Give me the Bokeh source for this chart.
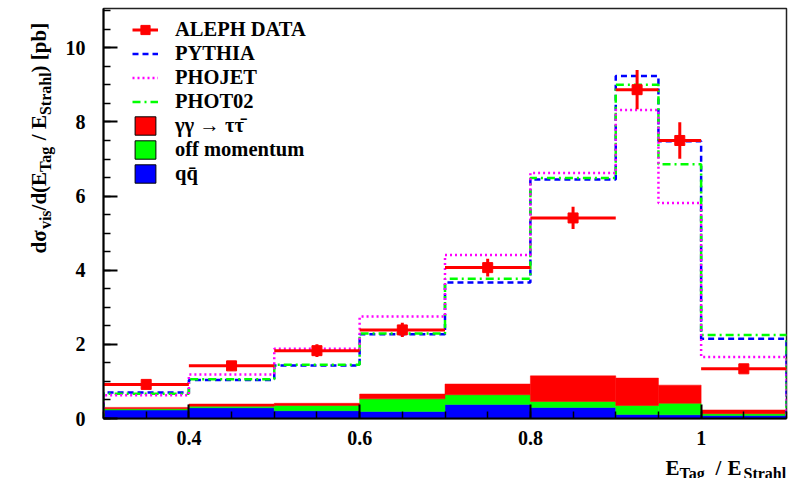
import numpy as np
from math import pi
from bokeh.plotting import figure
from bokeh.layouts import row, column
from bokeh.models import (FixedTicker, Range1d, Label, Legend, LegendItem,
                          CustomJSTickFormatter)
from bokeh.embed import file_html
from bokeh.resources import INLINE

# ---- data ----
bin_edges = [0.3, 0.4, 0.5, 0.6, 0.7, 0.8, 0.9, 0.95, 1.0, 1.1]
aleph_data = [0.92, 1.42, 1.83, 2.39, 4.07, 5.41, 8.87, 7.50, 1.34]
aleph_err = [0.10, 0.13, 0.17, 0.19, 0.24, 0.30, 0.53, 0.49, 0.10]
pythia = [0.70, 1.04, 1.43, 2.27, 3.67, 6.45, 9.24, 7.48, 2.15]
phojet = [0.63, 1.19, 1.88, 2.75, 4.41, 6.62, 8.32, 5.81, 1.66]
phot02 = [0.67, 1.06, 1.45, 2.29, 3.77, 6.49, 9.00, 6.86, 2.25]
bkg_qq = [0.23, 0.29, 0.21, 0.19, 0.38, 0.30, 0.11, 0.10, 0.08]
bkg_offmom = [0.03, 0.04, 0.14, 0.34, 0.26, 0.16, 0.24, 0.31, 0.05]
bkg_tautau = [0.04, 0.06, 0.06, 0.13, 0.29, 0.69, 0.74, 0.49, 0.10]
x_ticks = [0.4, 0.6, 0.8, 1.0]
x_minor = [0.3, 0.35, 0.4, 0.45, 0.5, 0.55, 0.6, 0.65, 0.7, 0.75, 0.8, 0.85, 0.9, 0.95, 1.0, 1.05, 1.1]
y_ticks = [0, 2, 4, 6, 8, 10]
y_minor = [i * 0.5 for i in range(23)]

FONT = "Liberation Serif"
LEFT_W = 56
ROW_H = 448
BOTTOM_H = 30
TOTAL_W = 790
TOTAL_H = ROW_H + BOTTOM_H  # 478

p = figure(width=TOTAL_W - LEFT_W, height=ROW_H, title=None,
           x_range=Range1d(0.3, 1.1), y_range=Range1d(0, 11.06),
           output_backend="svg", toolbar_location=None,
           min_border_left=103 - LEFT_W, min_border_right=4, min_border_top=8,
           min_border_bottom=ROW_H - 418)
p.grid.visible = False
p.outline_line_color = "#222222"
p.outline_line_width = 1.5
p.background_fill_color = "white"
p.border_fill_color = "white"

edges = np.array(bin_edges)
left = edges[:-1]
right = edges[1:]
centers = (left + right) / 2
qq = np.array(bkg_qq)
om = np.array(bkg_offmom)
tt = np.array(bkg_tautau)

# stacked backgrounds
p.quad(left=left, right=right, bottom=0, top=qq, fill_color="#0000ff", line_color="#0000ff", line_width=0.5)
p.quad(left=left, right=right, bottom=qq, top=qq + om, fill_color="#00ff00", line_color="#00ff00", line_width=0.5)
p.quad(left=left, right=right, bottom=qq + om, top=qq + om + tt, fill_color="#ff0000", line_color="#ff0000", line_width=0.5)

def outline(vals):
    xs = np.repeat(edges, 2)
    ys = np.concatenate([[0.0], np.repeat(np.array(vals), 2), [0.0]])
    return xs, ys

xs, ys = outline(pythia)
r_py = p.line(xs, ys, line_color="#0000ff", line_width=2.5, line_dash="6 4")
xs, ys = outline(phot02)
r_p2 = p.line(xs, ys, line_color="#00ff00", line_width=2.5, line_dash="8 4 2 4")
xs, ys = outline(phojet)
r_pj = p.line(xs, ys, line_color="#ff00ff", line_width=2.5, line_dash="2 3")

d = np.array(aleph_data)
e = np.array(aleph_err)
r_h = p.segment(x0=left, x1=right, y0=d, y1=d, line_color="#ff0000", line_width=3)
p.segment(x0=centers, x1=centers, y0=d - e, y1=d + e, line_color="#ff0000", line_width=3)
r_m = p.scatter(centers, d, marker="square", size=10, fill_color="#ff0000", line_color="#ff0000")

# legend-only boxes with black outline (no drawable data)
nan = [float("nan")]
l_tt = p.quad(left=nan, right=nan, top=nan, bottom=nan, fill_color="#ff0000", line_color="black", line_width=1)
l_om = p.quad(left=nan, right=nan, top=nan, bottom=nan, fill_color="#00ff00", line_color="black", line_width=1)
l_qq = p.quad(left=nan, right=nan, top=nan, bottom=nan, fill_color="#0000ff", line_color="black", line_width=1)

legend = Legend(items=[
    LegendItem(label="ALEPH DATA", renderers=[r_h, r_m]),
    LegendItem(label="PYTHIA", renderers=[r_py]),
    LegendItem(label="PHOJET", renderers=[r_pj]),
    LegendItem(label="PHOT02", renderers=[r_p2]),
    LegendItem(label="\u03b3\u03b3 \u2192 \u03c4\u03c4\u0304", renderers=[l_tt]),
    LegendItem(label="off momentum", renderers=[l_om]),
    LegendItem(label="qq\u0304", renderers=[l_qq]),
], location=(27, 231))
legend.label_text_font = FONT
legend.label_text_font_style = "bold"
legend.label_text_font_size = "20.5px"
legend.label_text_color = "black"
legend.glyph_width = 26
legend.glyph_height = 23
legend.label_height = 24
legend.spacing = 0
legend.padding = 2
legend.margin = 0
legend.label_standoff = 17
legend.border_line_alpha = 0
legend.background_fill_alpha = 0
p.add_layout(legend, "center")

# axes
for ax in (p.xaxis[0], p.yaxis[0]):
    ax.axis_line_width = 2
    ax.axis_line_color = "black"
    ax.major_tick_in = 14
    ax.major_tick_out = 0
    ax.minor_tick_in = 7
    ax.minor_tick_out = 0
    ax.major_tick_line_width = 2
    ax.minor_tick_line_width = 1.5
    ax.major_label_text_font = FONT
    ax.major_label_text_font_style = "bold"
    ax.major_label_text_font_size = "20px"
    ax.major_label_text_color = "black"

p.xaxis.ticker = FixedTicker(ticks=x_ticks, minor_ticks=x_minor)
p.yaxis.ticker = FixedTicker(ticks=y_ticks, minor_ticks=y_minor)
p.xaxis.formatter = CustomJSTickFormatter(code="return String(tick);")
p.xaxis.major_label_standoff = 12
p.yaxis.major_label_standoff = 18

# ---- helper panels holding the axis titles (pixel-unit ranges) ----
def text_panel(w, h):
    f = figure(frame_width=w, frame_height=h, title=None,
               x_range=Range1d(0, w), y_range=Range1d(0, h),
               x_axis_type=None, y_axis_type=None, output_backend="svg", toolbar_location=None,
               min_border=0, min_border_left=0, min_border_right=0,
               min_border_top=0, min_border_bottom=0)
    f.grid.visible = False
    f.outline_line_color = None
    f.background_fill_color = "white"
    f.border_fill_color = "white"
    return f

MAIN = "21px"
SUB = "16px"

def lab(fig, text, x, y, size, angle=0.0):
    fig.add_layout(Label(x=x, y=y, text=text, angle=angle,
                         text_font=FONT, text_font_style="bold", text_font_size=size,
                         text_color="black", text_align="left", text_baseline="alphabetic"))

# y-axis title (rotated, reading upward)
fl = text_panel(LEFT_W, ROW_H)
xb = 38
xsb = 45
segs = [("d\u03c3", 0, xb, MAIN), ("vis", 24.4, xsb, SUB), ("/d(E", 43.1, xb, MAIN),
        ("Tag", 81.6, xsb, SUB), ("/ E", 113.3, xb, MAIN), ("Strahl", 138.4, xsb, SUB),
        (") [pb]", 181.1, xb, MAIN)]
y0 = ROW_H - 245
for t, off, xx, sz in segs:
    lab(fl, t, xx, y0 + off, sz, angle=pi / 2)

# x-axis title with subscripts (strip spans page y ROW_H..TOTAL_H)
fb = text_panel(TOTAL_W, BOTTOM_H)
base = TOTAL_H - 467
subb = TOTAL_H - 473
lab(fb, "E", 665, base, MAIN)
lab(fb, "Tag", 679, subb, SUB)
lab(fb, "/", 715, base, MAIN)
lab(fb, "E", 727, base, MAIN)
lab(fb, "Strahl", 743, subb, SUB)

layout = column(row(fl, p, spacing=0), fb, spacing=0)
open("out.html", "w").write(file_html(layout, INLINE))
